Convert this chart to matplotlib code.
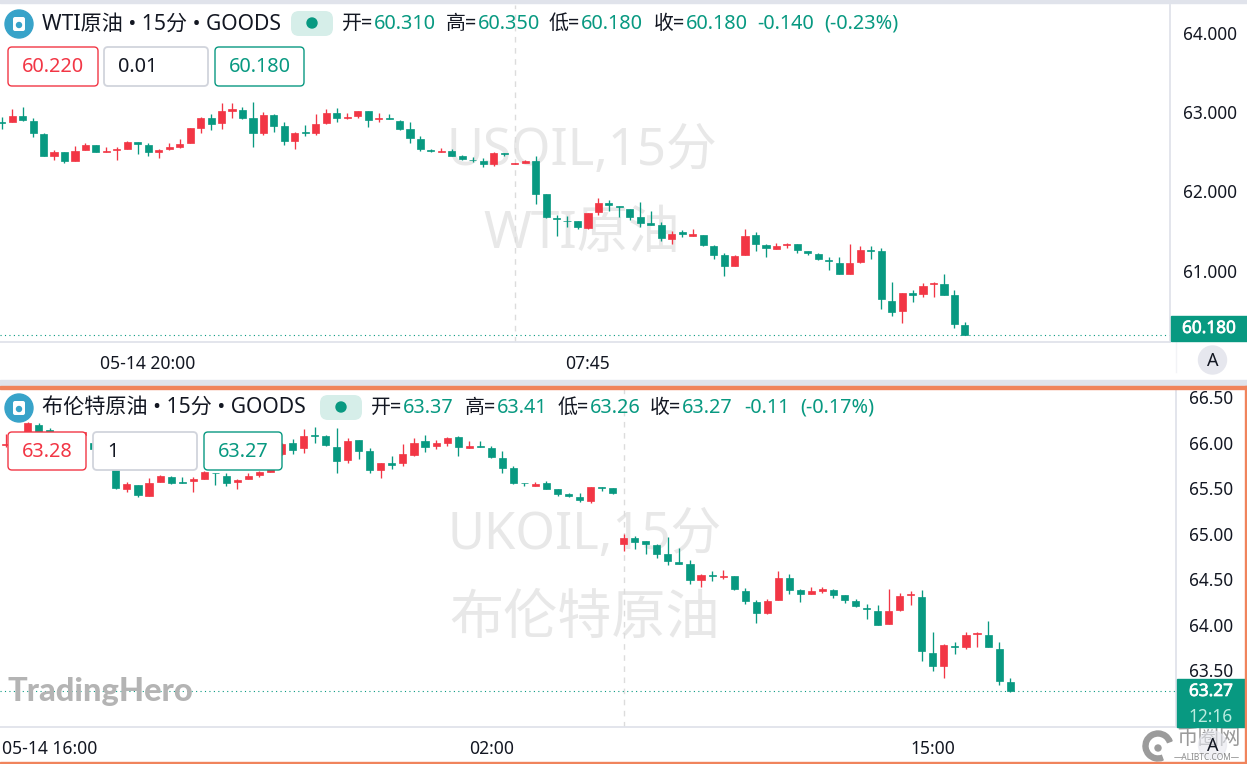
import matplotlib
matplotlib.use('Agg')
import matplotlib.pyplot as plt
import matplotlib.patheffects as pe
import numpy as np
from matplotlib.patches import Circle, FancyBboxPatch, Rectangle, Wedge

plt.rcParams['font.family'] = ['Noto Sans', 'Noto Sans CJK SC', 'DejaVu Sans']

GREEN = '#089981'
RED = '#F23645'
GRID = '#e0e3eb'
ORANGE = '#f0845c'
W, H = 1247, 764

# --- WTI, 15 min ---
wti_open = [62.87,62.87,62.95,62.89,62.72,62.45,62.50,62.38,62.52,62.585,62.49,62.52,62.54,62.62,62.58,62.50,62.53,62.56,62.61,62.80,62.92,62.86,63.02,63.03,62.92,62.73,62.96,62.825,62.63,62.745,62.73,62.86,62.99,
            62.92,62.95,63.01,62.91,62.92,62.89,62.79,62.66,62.52,62.50,62.51,62.445,62.40,62.38,62.345,62.48,62.345,62.36,62.38,61.97,61.66,61.63,61.62,61.54,61.74,61.85,61.82,61.78,61.67,61.60,61.575,
            61.40,61.48,61.44,61.45,61.31,61.19,61.06,61.19,61.45,61.32,61.275,61.32,61.33,61.245,61.21,61.135,61.095,60.95,61.105,61.255,61.24,60.62,60.49,60.71,60.70,60.83,60.825,60.69,60.31]
wti_high = [62.94,63.04,63.07,62.93,62.74,62.52,62.50,62.57,62.61,62.59,62.555,62.555,62.64,62.62,62.61,62.53,62.61,62.66,62.80,62.94,62.97,63.11,63.12,63.06,63.13,63.00,62.98,62.87,62.75,62.84,62.98,63.04,63.05,
            62.99,63.02,63.02,62.99,62.98,62.90,62.875,62.70,62.54,62.55,62.54,62.46,62.43,62.42,62.49,62.48,62.355,62.395,62.45,61.97,61.70,61.69,61.62,61.73,61.91,61.89,61.82,61.78,61.86,61.75,61.61,
            61.50,61.51,61.52,61.45,61.32,61.22,61.20,61.53,61.48,61.335,61.35,61.35,61.33,61.25,61.22,61.165,61.165,61.34,61.31,61.31,61.29,60.85,60.72,60.76,60.84,60.855,60.96,60.75,60.35]
wti_low = [62.79,62.87,62.89,62.68,62.44,62.40,62.36,62.38,62.52,62.50,62.49,62.40,62.54,62.475,62.45,62.42,62.52,62.55,62.61,62.73,62.78,62.79,62.93,62.91,62.555,62.71,62.75,62.59,62.53,62.70,62.715,62.85,62.87,
           62.91,62.93,62.81,62.88,62.91,62.77,62.61,62.51,62.49,62.50,62.45,62.39,62.37,62.31,62.32,62.44,62.345,62.355,61.84,61.66,61.43,61.545,61.52,61.52,61.705,61.75,61.67,61.64,61.55,61.58,61.37,
           61.34,61.42,61.44,61.305,61.15,60.935,61.055,61.19,61.25,61.175,61.27,61.285,61.225,61.195,61.135,61.005,60.95,60.95,61.10,61.14,60.52,60.425,60.34,60.60,60.67,60.67,60.695,60.28,60.18]
wti_close = [62.86,62.95,62.90,62.73,62.45,62.50,62.38,62.51,62.59,62.50,62.51,62.54,62.62,62.60,62.50,62.52,62.555,62.60,62.795,62.92,62.85,63.02,63.04,62.925,62.73,62.96,62.83,62.64,62.74,62.73,62.85,62.99,62.92,
             62.94,63.01,62.905,62.93,62.91,62.79,62.67,62.53,62.505,62.51,62.45,62.41,62.39,62.345,62.48,62.47,62.355,62.38,61.97,61.67,61.65,61.62,61.55,61.73,61.85,61.83,61.80,61.67,61.60,61.58,61.41,
             61.465,61.465,61.46,61.32,61.20,61.06,61.18,61.44,61.33,61.28,61.31,61.34,61.26,61.217,61.14,61.125,60.95,61.10,61.255,61.24,60.635,60.48,60.71,60.695,60.81,60.84,60.695,60.32,60.18]
wti_yticks = [61, 62, 63, 64]
wti_ylabels = ['61.000', '62.000', '63.000', '64.000']
wti_xticks = [13.9, 56]
wti_xlabels = ['05-14 20:00', '07:45']
wti_session = 49
wti_last = 60.18

# --- Brent, 15 min (first candles sit behind the input boxes, estimated) ---
brent_open = [65.97,65.98,66.05,66.19,66.14,66.02,66.08,66.08,65.99,65.93,65.80,
              65.49,65.53,65.41,65.57,65.62,65.565,65.58,65.60,65.67,65.63,65.57,65.60,65.64,
              65.68,65.87,66.00,65.94,66.08,66.07,65.95,
              65.81,66.03,65.91,65.70,65.77,65.77,65.86,66.02,65.965,65.99,66.06,65.945,65.965,65.94,65.835,65.725,65.56,65.525,65.55,65.49,65.43,65.40,65.36,65.51,65.505,64.89,64.95,64.915,64.87,64.77,64.69,
              64.665,64.49,64.545,64.525,64.53,64.37,64.25,64.13,64.265,64.515,64.38,64.33,64.37,64.375,64.32,64.26,64.185,64.145,64.01,64.155,64.32,64.30,63.69,63.545,63.765,63.755,63.895,63.89,63.73,63.37]
brent_high = [66.09,66.08,66.22,66.21,66.16,66.10,66.12,66.12,66.00,65.95,65.82,
              65.57,65.53,65.61,65.64,65.63,65.62,65.62,65.69,65.67,65.67,65.60,65.67,65.69,
              65.88,66.00,66.035,66.145,66.17,66.08,66.155,
              66.045,66.03,65.94,65.77,65.85,65.98,66.045,66.08,66.03,66.06,66.07,66.016,66.02,65.96,65.91,65.745,65.56,65.57,65.58,65.49,65.45,65.445,65.51,65.51,65.505,65.00,64.97,64.915,64.88,64.965,64.84,
              64.71,64.56,64.59,64.60,64.53,64.40,64.27,64.285,64.585,64.55,64.39,64.41,64.41,64.39,64.32,64.275,64.225,64.21,64.385,64.35,64.365,64.375,63.92,63.79,63.81,63.92,63.92,64.04,63.81,63.41]
brent_low = [65.95,65.95,66.03,66.03,65.99,65.98,66.02,66.02,65.90,65.77,65.49,
             65.46,65.40,65.41,65.57,65.54,65.555,65.46,65.595,65.53,65.52,65.49,65.60,65.62,
             65.68,65.86,65.87,65.88,65.99,65.965,65.66,
             65.78,65.82,65.67,65.61,65.71,65.745,65.855,65.90,65.93,65.96,65.855,65.935,65.955,65.825,65.66,65.54,65.52,65.52,65.49,65.41,65.40,65.35,65.34,65.47,65.43,64.81,64.83,64.77,64.73,64.65,64.67,
             64.445,64.415,64.48,64.495,64.38,64.23,64.02,64.12,64.265,64.33,64.245,64.33,64.35,64.29,64.235,64.195,64.065,64.00,64.01,64.15,64.21,63.595,63.49,63.415,63.675,63.735,63.755,63.755,63.33,63.26]
brent_close = [65.98,66.05,66.21,66.06,66.02,66.08,66.07,66.12,65.93,65.80,65.50,
               65.54,65.42,65.55,65.63,65.56,65.555,65.595,65.68,65.66,65.55,65.59,65.63,65.68,
               65.87,65.98,65.92,66.07,66.07,65.97,65.80,
               66.02,65.91,65.70,65.77,65.755,65.87,66.00,65.95,65.99,66.05,65.95,65.96,65.955,65.84,65.72,65.555,65.55,65.54,65.49,65.43,65.41,65.37,65.51,65.495,65.445,64.95,64.91,64.88,64.77,64.70,64.67,
               64.49,64.545,64.53,64.537,64.39,64.26,64.13,64.26,64.515,64.38,64.34,64.37,64.385,64.325,64.265,64.20,64.17,64.00,64.15,64.31,64.335,63.71,63.545,63.78,63.75,63.885,63.91,63.755,63.38,63.27]
brent_yticks = [63.5, 64, 64.5, 65, 65.5, 66, 66.5]
brent_ylabels = ['63.50', '64.00', '64.50', '65.00', '65.50', '66.00', '66.50']
brent_xticks = [4, 44, 84]
brent_xlabels = ['05-14 16:00', '02:00', '15:00']
brent_session = 56
brent_last = 63.27


def pane_axes(fig, x0, y0, x1, y1, zorder):
    # pixel box, y measured from the top of the picture
    ax = fig.add_axes([x0 / W, 1 - y1 / H, (x1 - x0) / W, (y1 - y0) / H], zorder=zorder)
    ax.patch.set_alpha(0)
    return ax


def draw_candles(ax, o, h, l, c, width):
    o, h, l, c = map(np.array, (o, h, l, c))
    x = np.arange(len(o))
    colors = [RED if ci >= oi else GREEN for oi, ci in zip(o, c)]
    ax.vlines(x, l, h, colors=colors, linewidth=0.95, zorder=3)
    ax.bar(x, np.abs(c - o), bottom=np.minimum(o, c), width=width, color=colors,
           edgecolor=colors, linewidth=0.5, zorder=4)


def style_pane(ax, xticks, xlabels, yticks, ylabels, ypad):
    ax.set_xticks(xticks, xlabels)
    ax.set_yticks(yticks, ylabels)
    ax.yaxis.tick_right()
    ax.tick_params(axis='y', length=0, pad=ypad, labelsize=12.4, labelcolor='#131722')
    ax.tick_params(axis='x', length=0, pad=9, labelsize=12.6, labelcolor='#131722')
    for name in ['top', 'left']:
        ax.spines[name].set_visible(False)
    for name in ['right', 'bottom']:
        ax.spines[name].set_color(GRID)
        ax.spines[name].set_linewidth(1.3)


def rbox(ax, x0, y0, x1, y1, edge, face='white', rad=4, lw=1.0, z=5):
    ax.add_patch(FancyBboxPatch((x0 + rad, y0 + rad), x1 - x0 - 2 * rad, y1 - y0 - 2 * rad,
                                boxstyle='round,pad=%d' % rad, edgecolor=edge, facecolor=face,
                                linewidth=lw, zorder=z))


def header(ax, y, title, pill_x, pieces):
    ax.add_patch(Circle((19, y), 14, color='#38a3c9', zorder=6))
    rbox(ax, 13, y - 7, 25, y + 7, 'white', 'white', rad=2, lw=0, z=7)
    ax.add_patch(Circle((19, y + 1), 2.5, color='#38a3c9', zorder=8))
    ax.text(42, y + 0.5, title, fontsize=15.2, color='#131722', va='center', zorder=6)
    rbox(ax, pill_x, y - 13, pill_x + 42, y + 12, '#d6eee9', '#d6eee9', rad=8, lw=0, z=6)
    ax.add_patch(Circle((pill_x + 21, y - 1), 5, color=GREEN, zorder=7))
    for x, txt, col in pieces:
        ax.text(x, y, txt, fontsize=14.3, color=col, va='center', zorder=6)


fig = plt.figure(figsize=(W / 100, H / 100), dpi=100, facecolor='white')

# background layer, watermarks sit under the candles
bg = fig.add_axes([0, 0, 1, 1], zorder=0)
bg.set_xlim(0, W)
bg.set_ylim(H, 0)
bg.axis('off')
wm = '#e8e8e8'
bg.text(582, 151, 'USOIL,15分', fontsize=36.5, color=wm, ha='center', va='center')
bg.text(582, 235, 'WTI原油', fontsize=37, color=wm, ha='center', va='center')
bg.text(585, 535, 'UKOIL,15分', fontsize=36.5, color=wm, ha='center', va='center')
bg.text(585, 619, '布伦特原油', fontsize=39, color=wm, ha='center', va='center')

# WTI pane
ax1 = pane_axes(fig, 0, 5, 1170, 342, 1)
ax1.set_xlim(-1.67 / 10.47, (1170 - 1.67) / 10.47)
ax1.set_ylim(61 + (270.5 - 342) / 79.2, 61 + (270.5 - 5) / 79.2)
ax1.axvline(wti_session, color='#dcdcdc', linewidth=1, dashes=(4, 4), zorder=1)
ax1.axhline(wti_last, color=GREEN, linewidth=0.8, dashes=(1, 3), zorder=2)
draw_candles(ax1, wti_open, wti_high, wti_low, wti_close, 0.68)
style_pane(ax1, wti_xticks, wti_xlabels, wti_yticks, wti_ylabels, 9.0)

# Brent pane
ax2 = pane_axes(fig, 0, 389, 1176, 727, 1)
ax2.set_xlim(-5.5 / 11.04, (1176 - 5.5) / 11.04)
ax2.set_ylim(64 + (624.5 - 727) / 91, 64 + (624.5 - 389) / 91)
ax2.axvline(brent_session, color='#dcdcdc', linewidth=1, dashes=(4, 4), zorder=1)
ax2.axhline(brent_last, color=GREEN, linewidth=0.8, dashes=(1, 3), zorder=2)
draw_candles(ax2, brent_open, brent_high, brent_low, brent_close, 0.64)
style_pane(ax2, brent_xticks, brent_xlabels, brent_yticks, brent_ylabels, 9.6)

# UI layer on top
ui = fig.add_axes([0, 0, 1, 1], zorder=2)
ui.set_xlim(0, W)
ui.set_ylim(H, 0)
ui.axis('off')
ui.patch.set_alpha(0)

ui.add_patch(Rectangle((0, 0), W, 2.5, color=GRID, zorder=1))
ui.add_patch(Rectangle((0, 380), W, 6, color=GRID, zorder=1))
ui.add_patch(Rectangle((0, 386), W, 2.5, color=ORANGE, zorder=9))
ui.add_patch(Rectangle((1245, 386), 2, H - 386, color=ORANGE, zorder=9))
ui.add_patch(Rectangle((0, 762), W, 2, color=ORANGE, zorder=9))
ui.plot([1176, 1176], [342, 372], color='#f2f3f6', linewidth=1, zorder=1)

header(ui, 24, 'WTI原油 • 15分 • GOODS', 291,
       [(342, '开=', '#131722'), (374, '60.310', GREEN), (446, '高=', '#131722'), (478, '60.350', GREEN),
        (549, '低=', '#131722'), (581, '60.180', GREEN), (654, '收=', '#131722'), (686, '60.180', GREEN),
        (757, '-0.140', GREEN), (824, '(-0.23%)', GREEN)])
header(ui, 408, '布伦特原油 • 15分 • GOODS', 320,
       [(371, '开=', '#131722'), (403, '63.37', GREEN), (465, '高=', '#131722'), (497, '63.41', GREEN),
        (558, '低=', '#131722'), (590, '63.26', GREEN), (650, '收=', '#131722'), (682, '63.27', GREEN),
        (744, '-0.11', GREEN), (800, '(-0.17%)', GREEN)])

# order boxes
rbox(ui, 8, 47, 98, 86, RED)
rbox(ui, 104, 47, 208, 86, '#d1d4dc', lw=1.3)
rbox(ui, 215, 47, 304, 86, GREEN)
ui.text(53, 67, '60.220', fontsize=14.3, color=RED, ha='center', va='center', zorder=6)
ui.text(118, 67, '0.01', fontsize=14.3, color='#131722', va='center', zorder=6)
ui.text(260, 67, '60.180', fontsize=14.3, color=GREEN, ha='center', va='center', zorder=6)

rbox(ui, 8, 432, 86, 470, RED)
rbox(ui, 93, 432, 197, 470, '#d1d4dc', lw=1.3)
rbox(ui, 204, 432, 282, 470, GREEN)
ui.text(47, 452, '63.28', fontsize=14.3, color=RED, ha='center', va='center', zorder=6)
ui.text(107, 452, '1', fontsize=14.3, color='#131722', va='center', zorder=6)
ui.text(243, 452, '63.27', fontsize=14.3, color=GREEN, ha='center', va='center', zorder=6)

# last price tags
thick = [pe.withStroke(linewidth=0.5, foreground='white')]
ui.add_patch(Rectangle((1171, 316), 76, 25, color=GREEN, zorder=5))
ui.text(1209, 328, '60.180', fontsize=12.4, color='white', ha='center', va='center', zorder=6, path_effects=thick)
ui.add_patch(Rectangle((1177, 679), 68, 48, color=GREEN, zorder=5))
ui.text(1211, 691, '63.27', fontsize=12.4, color='white', ha='center', va='center', zorder=6, path_effects=thick)
ui.text(1211, 717, '12:16', fontsize=12.4, color='#b9ece0', ha='center', va='center', zorder=6)

# auto scale button
ui.add_patch(Circle((1212.5, 360), 14, color='#e6e7ee', zorder=5))
ui.text(1212.5, 361, 'A', fontsize=13, color='#131722', ha='center', va='center', zorder=6)

# site logo bottom right
ui.add_patch(Wedge((1158, 746), 15, 70, 340, width=5, color='#9b9b9b', zorder=4))
ui.add_patch(Circle((1158, 748), 3, color='#9b9b9b', zorder=4))
ui.text(1209, 739, '币圈网', fontsize=15.5, color='#9a9a9a', ha='center', va='center', zorder=4)
ui.add_patch(Circle((1212.5, 745), 14, color='#e6e7ee', alpha=0.6, zorder=5))
ui.text(1212.5, 746, 'A', fontsize=13, color='#131722', ha='center', va='center', zorder=6)
ui.text(1207, 758, '—ALIBTC.COM—', fontsize=6, color='#8a8a8a', ha='center', va='center', zorder=6)

ui.text(8, 691, 'TradingHero', fontsize=23.5, family=['Lato', 'DejaVu Sans'], fontweight='black',
        color='#b4b4b4', va='center', zorder=6)

fig.savefig('out.png', dpi=100)
